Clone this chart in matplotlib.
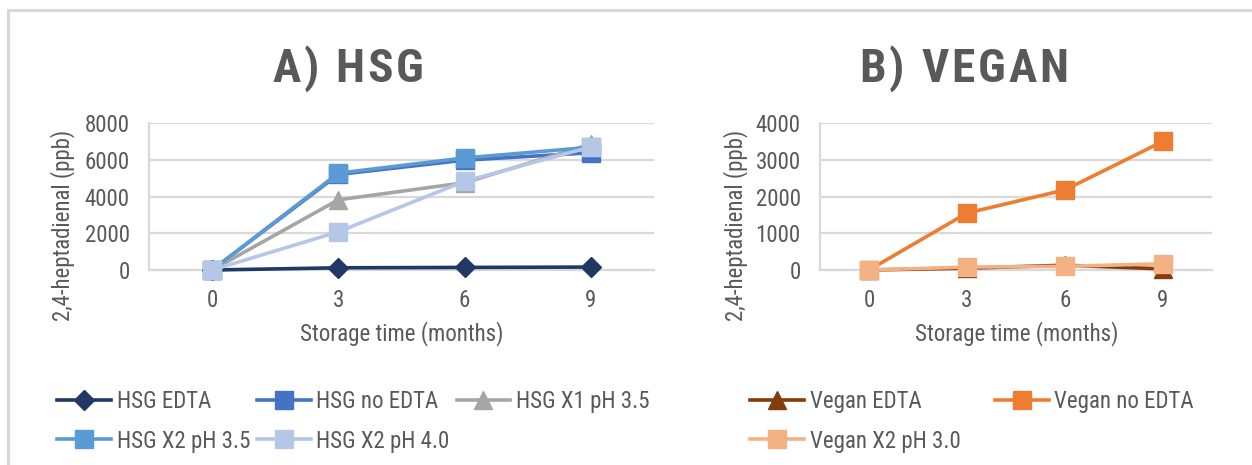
import matplotlib
matplotlib.use("Agg")
import matplotlib.pyplot as plt
from matplotlib import font_manager
from matplotlib.font_manager import FontProperties
from matplotlib.patches import Rectangle

# ---- data -------------------------------------------------------------
months = ['0', '3', '6', '9']

hsg_labels = ['HSG EDTA', 'HSG no EDTA', 'HSG X1 pH 3.5', 'HSG X2 pH 3.5', 'HSG X2 pH 4.0']
hsg_edta = [0, 120, 140, 160]
hsg_no_edta = [0, 5200, 5980, 6380]
hsg_x1_ph35 = [0, 3820, 4750, 6850]
hsg_x2_ph35 = [0, 5270, 6100, 6680]
hsg_x2_ph40 = [0, 2080, 4830, 6700]

vegan_labels = ['Vegan EDTA', 'Vegan no EDTA', 'Vegan X2 pH 3.0']
vegan_edta = [0, 50, 130, 30]
vegan_no_edta = [0, 1550, 2180, 3500]
vegan_x2_ph30 = [0, 80, 100, 170]

# ---- fonts: a condensed sans, whichever is installed -----------------------
available = {f.name for f in font_manager.fontManager.ttflist}


def pick(cands):
    for c in cands:
        if c in available:
            return c
    return 'DejaVu Sans'


BODY = pick(['Roboto Condensed', 'Liberation Sans Narrow', 'Archivo Narrow', 'PT Sans Narrow',
             'Sofia Sans Condensed', 'Barlow Semi Condensed', 'Saira SemiCondensed'])
plt.rcParams['font.family'] = [BODY, 'DejaVu Sans']

# ---- styles -------------------------------------------------------------
W, H = 1252, 465
GRID = '#D9D9D9'
TXT = '#595959'

hsg_styles = [
    dict(color='#203864', marker='D', ms=10.5),
    dict(color='#4472C4', marker='s', ms=12.5),
    dict(color='#A5A5A5', marker='^', ms=12.5),
    dict(color='#5B9BD5', marker='s', ms=12.5),
    dict(color='#B4C7E7', marker='s', ms=12.5),
]
vegan_styles = [
    dict(color='#843C0C', marker='^', ms=12.5),
    dict(color='#ED7D31', marker='s', ms=12.5),
    dict(color='#F4B183', marker='s', ms=12.5),
]

fig = plt.figure(figsize=(W / 100, H / 100), dpi=100)

# outer chart frame
fig.patches.append(Rectangle((8 / W, -0.1), 1.2, 1 - 10 / H + 0.1, transform=fig.transFigure,
                             fill=False, edgecolor=GRID, linewidth=2.2))


def px_axes(x0, x1, ytop, ybot):
    return fig.add_axes([x0 / W, 1 - ybot / H, (x1 - x0) / W, (ybot - ytop) / H])


def style_axes(ax, ymax, step):
    ax.set_xlim(-0.5, 3.5)
    ax.set_ylim(0, ymax)
    ax.set_yticks(range(0, ymax + 1, step))
    ax.set_xticks(range(len(months)))
    ax.set_xticklabels(months)
    ax.grid(axis='y', color=GRID, linewidth=1.6)
    ax.set_axisbelow(True)
    for s in ['top', 'right']:
        ax.spines[s].set_visible(False)
    for s in ['left', 'bottom']:
        ax.spines[s].set_color(GRID)
        ax.spines[s].set_linewidth(1.6)
    ax.tick_params(axis='both', length=0, colors=TXT, labelsize=16.5)
    ax.tick_params(axis='y', pad=14)
    ax.tick_params(axis='x', pad=14)
    ax.set_facecolor('none')


def draw_series(ax, series, styles):
    x = range(len(months))
    handles = []
    for vals, st in zip(series, styles):
        h, = ax.plot(x, vals, color=st['color'], marker=st['marker'], markersize=st['ms'],
                     markerfacecolor=st['color'], markeredgecolor=st['color'],
                     linewidth=2.6, clip_on=False, zorder=3)
        handles.append(h)
    return handles


def spaced_text(xc, yc, s, size, tracking):
    r = fig.canvas.get_renderer()
    fp = FontProperties(family=[BODY, 'DejaVu Sans'], weight='bold', size=size)
    dpx = lambda t: r.get_text_width_height_descent(t, fp, ismath=False)[0]
    widths = []
    for ch in s:
        if ch == ' ':
            widths.append(dpx('H H') - dpx('HH'))
        else:
            widths.append(dpx(ch))
    total = sum(widths) + tracking * (len(s) - 1)
    x = xc - total / 2
    for ch, w in zip(s, widths):
        fig.text(x / W, 1 - yc / H, ch, fontproperties=fp, color=TXT, ha='left', va='center')
        x += w + tracking


def row_major(items, ncol):
    # legend fills column by column; reorder so entries read across rows
    nrow = -(-len(items) // ncol)
    rows = [items[i * ncol:(i + 1) * ncol] for i in range(nrow)]
    return [r[c] for c in range(ncol) for r in rows if c < len(r)]


def add_legend(handles, labels, x_px, y_px, ncol, colspace):
    fig.legend(row_major(handles, ncol), row_major(labels, ncol), loc='upper left',
               bbox_to_anchor=(x_px / W, 1 - y_px / H), ncol=ncol, frameon=False, fontsize=16.5,
               labelcolor=TXT, handlelength=2.35, handletextpad=0.25, columnspacing=colspace,
               labelspacing=0.72, borderpad=0, borderaxespad=0)


# ---- A) HSG ---------------------------------------------------------------
ax1 = px_axes(149, 654, 123, 270)
style_axes(ax1, 8000, 2000)
h1 = draw_series(ax1, [hsg_edta, hsg_no_edta, hsg_x1_ph35, hsg_x2_ph35, hsg_x2_ph40], hsg_styles)
fig.text(402 / W, 1 - 334 / H, 'Storage time (months)', color=TXT, fontsize=16.5, ha='center', va='center')
fig.text(63 / W, 1 - 225 / H, '2,4-heptadienal (ppb)', color=TXT, fontsize=16.5, rotation=90,
         ha='center', va='center')
spaced_text(348, 69, 'A) HSG', 34, 3)
add_legend(h1, hsg_labels, 57, 390, 3, 0.3)

# ---- B) VEGAN -------------------------------------------------------------
ax2 = px_axes(820, 1212, 123, 270)
style_axes(ax2, 4000, 1000)
h2 = draw_series(ax2, [vegan_edta, vegan_no_edta, vegan_x2_ph30], vegan_styles)
fig.text(1017 / W, 1 - 334 / H, 'Storage time (months)', color=TXT, fontsize=16.5, ha='center', va='center')
fig.text(736 / W, 1 - 225 / H, '2,4-heptadienal (ppb)', color=TXT, fontsize=16.5, rotation=90,
         ha='center', va='center')
spaced_text(964, 69, 'B) VEGAN', 34, 3)
add_legend(h2, vegan_labels, 750, 390, 2, 1.5)

fig.savefig('out.png', dpi=100, facecolor='white')
